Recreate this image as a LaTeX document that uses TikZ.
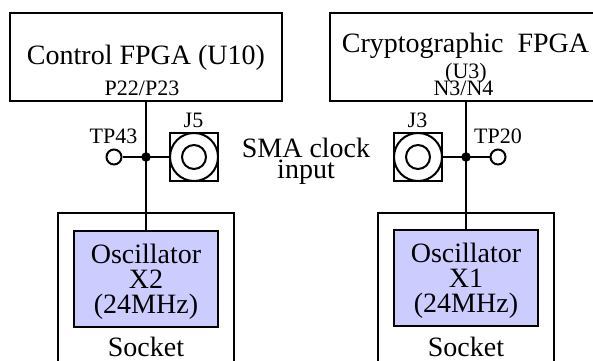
\documentclass[tikz,border=0pt]{standalone}
\usepackage{fontspec}
\setmainfont{Liberation Serif}
\tikzset{
  x=1pt,y=-1pt,
  wire/.style={line width=2pt,black},
  boxed/.style={draw=black,line width=2pt,rectangle,inner sep=0pt,minimum width=0pt},
  big/.style={inner sep=0pt,anchor=base,font=\fontsize{28}{28}\selectfont},
  small/.style={inner sep=0pt,anchor=base,font=\fontsize{22}{22}\selectfont},
  dotj/.style={circle,fill=black,draw=none,minimum size=9.5pt,inner sep=0pt},
  tp/.style={circle,draw=black,fill=white,line width=2pt,minimum size=15pt,inner sep=0pt},
  sma/.style={circle,draw=black,line width=2pt,inner sep=0pt,fill=white},
}
\definecolor{osc}{RGB}{204,204,255}
\begin{document}
\begin{tikzpicture}
\useasboundingbox (0,0) rectangle (593,360);
\begin{scope}
\clip (0,0) rectangle (593,360);
% FPGA boxes
\node[boxed,minimum width=272pt,minimum height=88pt] (ctrl) at (146,56.5) {};
\node[boxed,minimum width=272pt,minimum height=88pt] (crypt) at (466,56.5) {};
% Sockets (open at the bottom of the picture)
\node[boxed,minimum width=176pt,minimum height=160pt] (sockL) at (146,293) {};
\node[boxed,minimum width=176pt,minimum height=160pt] (sockR) at (466,293) {};
% Oscillators
\node[boxed,fill=osc,minimum width=144pt,minimum height=96pt] (oscL) at (146,279) {};
\node[boxed,fill=osc,minimum width=144pt,minimum height=96pt] (oscR) at (466,278) {};
% Junctions and connectors
\coordinate (jL) at (146,157);
\coordinate (jR) at (466,157);
\node[tp] (tpL) at (114,157) {};
\node[tp] (tpR) at (498,157) {};
\node[boxed,minimum size=48pt] (j5) at (194,157) {};
\node[boxed,minimum size=48pt] (j3) at (418,157) {};
\node[sma,minimum size=48pt] (j5o) at (194,157) {};
\node[sma,minimum size=24pt] (j5i) at (194,157) {};
\node[sma,minimum size=48pt] (j3o) at (418,157) {};
\node[sma,minimum size=24pt] (j3i) at (418,157) {};
\draw[wire] (ctrl.south -| jL) -- (oscL.north -| jL);
\draw[wire] (crypt.south -| jR) -- (oscR.north -| jR);
\draw[wire] (tpL) -- (j5o);
\draw[wire] (tpR) -- (j3o);
\node[dotj] (dL) at (jL) {};
\node[dotj] (dR) at (jR) {};
\end{scope}
% Text
\node[big] (t1) at (146,64) {Control FPGA (U10)};
\node[big] (t2) at (465.5,52) {Cryptographic\hspace{0.5em}FPGA};
\node[small] (t3) at (466,78) {(U3)};
\node[small] (t4) at (463.5,95) {N3/N4};
\node[small] (t5) at (142,95) {P22/P23};
\node[small] (t6) at (113.5,143) {TP43};
\node[small] (t7) at (498,143) {TP20};
\node[small] (t8) at (193.5,127) {J5};
\node[small] (t9) at (417.5,127) {J3};
\node[big] (t10) at (306,157) {SMA clock};
\node[big] (t11) at (306,178) {input};
\node[big] (t12) at (146,263) {Oscillator};
\node[big] (t13) at (146,288) {X2};
\node[big] (t14) at (146,313) {(24MHz)};
\node[big] (t15) at (146,356) {Socket};
\node[big] (t16) at (466,262) {Oscillator};
\node[big] (t17) at (466,287) {X1};
\node[big] (t18) at (466,312) {(24MHz)};
\node[big] (t19) at (466,356) {Socket};
\end{tikzpicture}
\end{document}
